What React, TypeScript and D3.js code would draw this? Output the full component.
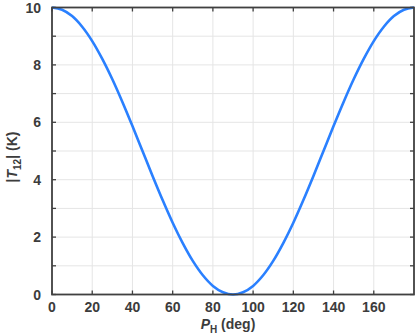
import * as d3 from 'd3';
import React from 'react';

// angle P_H in degrees and |T12| in K
const angles = [0, 5, 10, 15, 20, 25, 30, 35, 40, 45, 50, 55, 60, 65, 70, 75, 80, 85, 90,
  95, 100, 105, 110, 115, 120, 125, 130, 135, 140, 145, 150, 155, 160, 165, 170, 175, 180];
const t12 = [10, 9.92, 9.7, 9.33, 8.83, 8.21, 7.5, 6.71, 5.87, 5.0, 4.13, 3.29, 2.5, 1.79, 1.17, 0.67, 0.3, 0.08, 0,
  0.08, 0.3, 0.67, 1.17, 1.79, 2.5, 3.29, 4.13, 5.0, 5.87, 6.71, 7.5, 8.21, 8.83, 9.33, 9.7, 9.92, 10];
const xTicks = [0, 20, 40, 60, 80, 100, 120, 140, 160];
const yTicks = [0, 2, 4, 6, 8, 10];
const yMinor = [0, 1, 2, 3, 4, 5, 6, 7, 8, 9, 10];

const W = 415, H = 336;
const m = { left: 52, right: 1, top: 7.5, bottom: 41.5 };
const axisColor = '#404040';
const textColor = '#3c3c3c';
const font = 'Liberation Sans, Arial, Helvetica, sans-serif';

export default function App() {
  const x = d3.scaleLinear().domain([0, 180]).range([m.left, W - m.right]);
  const y = d3.scaleLinear().domain([0, 10]).range([H - m.bottom, m.top]);

  const pts = angles.map((a, i) => [a, t12[i]] as [number, number]);
  const line = d3.line<[number, number]>()
    .x(d => x(d[0]))
    .y(d => y(d[1]))
    .curve(d3.curveCatmullRom.alpha(0.5));

  const x0 = x.range()[0], x1 = x.range()[1];
  const y0 = y.range()[0], y1 = y.range()[1];
  const tick = 4;

  return (
    <svg width={W} height={H} style={{ position: 'absolute', left: 0, top: 0 }} fontFamily={font}>
      <rect x={0} y={0} width={W} height={H} fill="#fff" />
      {/* grid */}
      <g stroke="#e5e5e5" strokeWidth={1}>
        {xTicks.filter(t => t > 0).map(t => (
          <line key={'gx' + t} x1={x(t)} x2={x(t)} y1={y1} y2={y0} />
        ))}
        {yMinor.filter(t => t > 0 && t < 10).map(t => (
          <line key={'gy' + t} x1={x0} x2={x1} y1={y(t)} y2={y(t)} />
        ))}
      </g>
      {/* ticks */}
      <g stroke={axisColor} strokeWidth={1.3}>
        {xTicks.map(t => (
          <g key={'tx' + t}>
            <line x1={x(t)} x2={x(t)} y1={y0} y2={y0 - tick} />
            <line x1={x(t)} x2={x(t)} y1={y1} y2={y1 + tick} />
          </g>
        ))}
        {yMinor.map(t => (
          <g key={'ty' + t}>
            <line x1={x0} x2={x0 + tick} y1={y(t)} y2={y(t)} />
            <line x1={x1} x2={x1 - tick} y1={y(t)} y2={y(t)} />
          </g>
        ))}
      </g>
      {/* curve */}
      <path d={line(pts) || ''} fill="none" stroke="#2a80ff" strokeWidth={2.6} strokeLinejoin="round" />
      {/* frame */}
      <rect x={x0} y={y1} width={x1 - x0} height={y0 - y1} fill="none" stroke={axisColor} strokeWidth={1.8} />
      {/* tick labels */}
      <g fill={textColor} fontWeight="bold" fontSize={14}>
        {xTicks.map(t => (
          <text key={'lx' + t} x={x(t)} y={y0 + 17} textAnchor="middle">{t}</text>
        ))}
        {yTicks.map(t => (
          <text key={'ly' + t} x={x0 - 11} y={y(t) + 5} textAnchor="end">{t}</text>
        ))}
      </g>
      {/* axis titles */}
      <text x={228} y={329} textAnchor="middle" fill={textColor} fontWeight="bold" fontSize={14}>
        <tspan fontStyle="italic">P</tspan>
        <tspan fontSize={10} dy={4}>H</tspan>
        <tspan dy={-4}> (deg)</tspan>
      </text>
      <text transform={`translate(17,157) rotate(-90)`} textAnchor="middle" fill={textColor} fontWeight="bold" fontSize={14}>
        <tspan>|</tspan>
        <tspan fontStyle="italic">T</tspan>
        <tspan fontSize={10} dy={4}>12</tspan>
        <tspan dy={-4}>| (K)</tspan>
      </text>
    </svg>
  );
}
